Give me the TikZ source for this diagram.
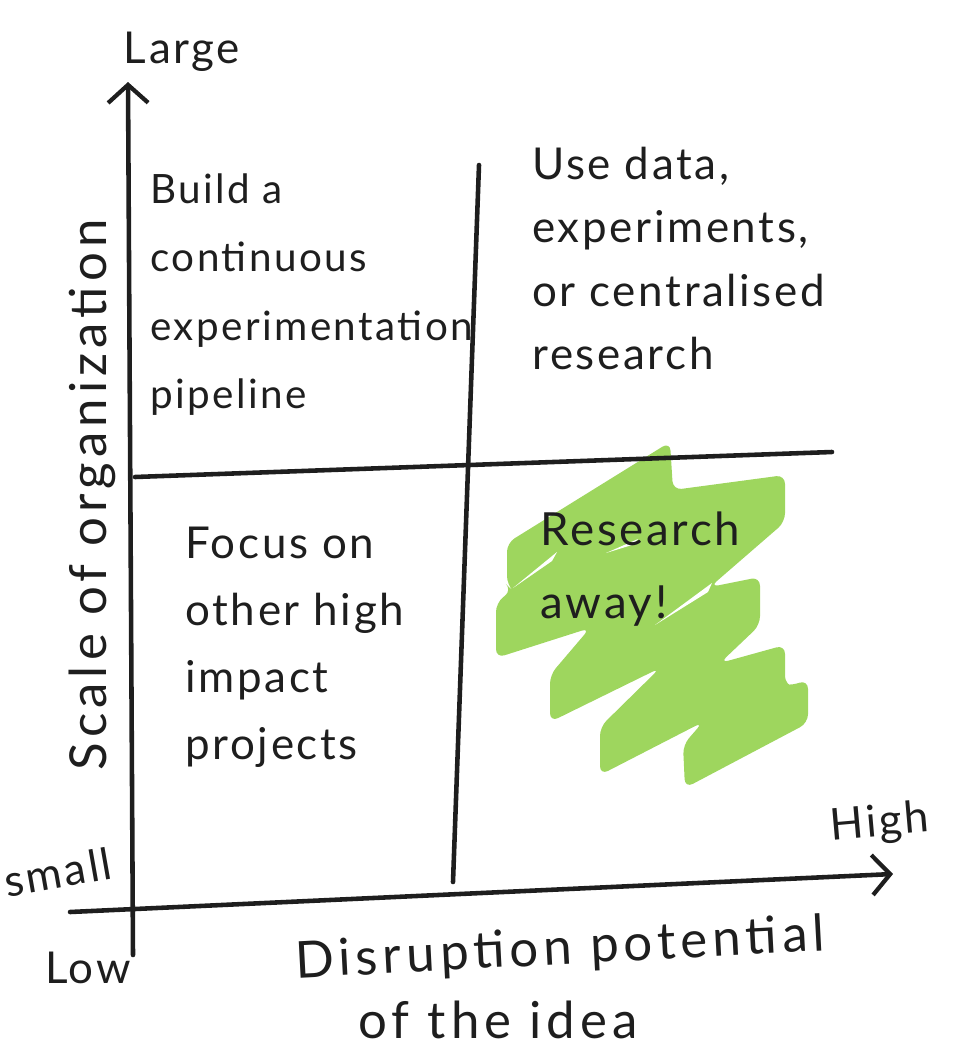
\documentclass[tikz,border=0pt]{standalone}
\usepackage{fontspec}
\setmainfont{Lato}
\newfontfamily\handfont{Lato}[LetterSpace=6]
\newfontfamily\handwide{Lato}[LetterSpace=10]
\usepackage{xcolor}
\usetikzlibrary{positioning,arrows.meta}
\definecolor{inkc}{RGB}{30,30,30}
\definecolor{markerc}{RGB}{158,214,94}
\tikzset{
  ink/.style      = {draw=inkc, line width=2.6pt, line cap=round},
  axis/.style     = {ink, -{Straight Barb[length=3.6mm, width=8mm, line width=2.4pt]}},
  quad/.style     = {text=inkc, align=left, inner sep=0pt, anchor=north west},
  hand/.style     = {font=\handfont\fontsize{25}{28}\selectfont, text=inkc, inner sep=0pt},
  axlbl/.style    = {font=\handwide\fontsize{29}{32}\selectfont, text=inkc, inner sep=0pt},
  marker/.style   = {fill=markerc, rounded corners=5pt},
  gap/.style      = {fill=white},
}

\begin{document}
\begin{tikzpicture}[x=0.02cm, y=-0.02cm]
\useasboundingbox (0,0) rectangle (978,1062);

% --- green marker scribble (one zigzag outline) ---------------------------
\fill[marker] (507,543) -- (670,442) -- (673,490) -- (785,475) -- (785,522)
  -- (710,587) -- (760,577) -- (760,625) -- (720,663) -- (785,645)
  -- (785,685) -- (789,686) -- (808,680) -- (808,723) -- (685,788)
  -- (683,745) -- (703,722) -- (600,775) -- (600,727) -- (660,668)
  -- (550,722) -- (550,675) -- (590,628) -- (496,658) -- (496,603)
  -- (512,590) -- (507,585) -- cycle;
% thin white slivers between the strokes
\fill[gap] (513,588) -- (557,552) -- (552,561) -- cycle;
\fill[gap] (606,553) -- (638,539) -- (632,545) -- cycle;
\fill[gap] (655,625) -- (712,583) -- (708,592) -- cycle;

% --- axes -----------------------------------------------------------------
\coordinate (ybot) at (133,955);
\coordinate (ytop) at (128,82);
\coordinate (xbeg) at (70,912);
\coordinate (xend) at (893,874);
\draw[axis] (ybot) -- (ytop);
\draw[axis] (xbeg) -- (xend);

% --- quadrant dividers ----------------------------------------------------
\coordinate (vtop) at (479,165);
\coordinate (vbot) at (453,882);
\coordinate (hbeg) at (135,477);
\coordinate (hend) at (832,452);
\draw[ink] (vtop) -- (vbot);
\draw[ink] (hbeg) -- (hend);

% --- axis labels ----------------------------------------------------------
\node[hand] (large) at (182,52) {Large};
\node[hand, rotate=10] (small) at (58,872) {small};
\node[hand] (low) at (88,968) {Low};
\node[hand, rotate=5] (high) at (880,824) {High};
\node[axlbl, rotate=90] (scale) at (92,495) {Scale of organization};
\node[axlbl, rotate=3] (disr) at (560,950) {Disruption potential};
\node[axlbl] (idea) at (498,1020) {of the idea};

% --- quadrants ------------------------------------------------------------
\node[quad, font=\handfont\fontsize{23}{39}\selectfont] (tl) at (150,173)
  {Build a\\continuous\\experimentation\\pipeline};
\node[quad, font=\handfont\fontsize{25}{36}\selectfont] (tr) at (532,147)
  {Use data,\\experiments,\\or centralised\\research};
\node[quad, font=\handfont\fontsize{25}{38}\selectfont] (bl) at (185,527)
  {Focus on\\other high\\impact\\projects};
\node[quad, font=\handfont\fontsize{26}{42}\selectfont] (br) at (540,511)
  {Research\\away!};

\end{tikzpicture}
\end{document}
